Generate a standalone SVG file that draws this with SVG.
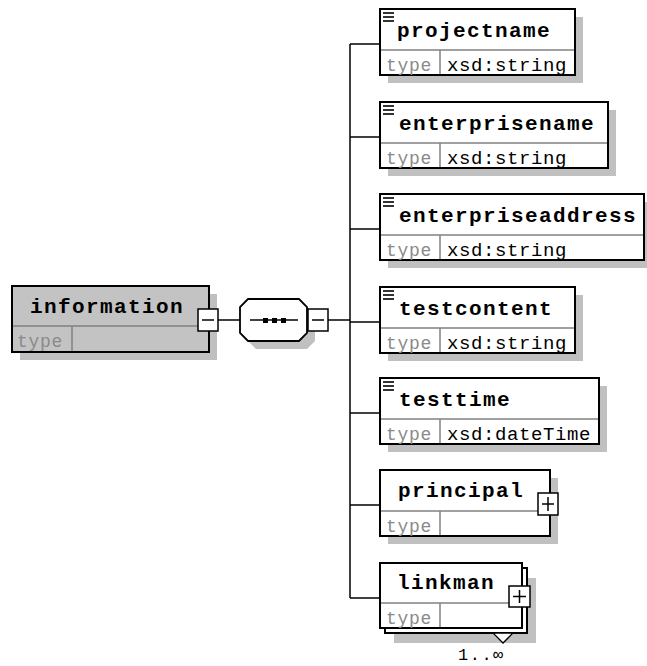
<svg xmlns="http://www.w3.org/2000/svg" width="647" height="666" viewBox="0 0 647 666">
<style>
.shadow{fill:#c0c0c0;stroke:none}
.box{fill:#fff;stroke:#000;stroke-width:2}
.div{stroke:#808080;stroke-width:1.5;fill:none}
.name{font-family:"Liberation Mono",monospace;font-weight:bold;font-size:21px;letter-spacing:1.4px;fill:#000}
.type{font-family:"Liberation Mono",monospace;font-size:18px;letter-spacing:0.7px;fill:#8a8a8a}
.val{font-family:"Liberation Mono",monospace;font-size:19px;letter-spacing:0.6px;fill:#000}
.ico{stroke:#000;stroke-width:1.6}
.pm{fill:#fff;stroke:#000;stroke-width:1.5}
.ln{stroke:#000;stroke-width:1.5;fill:none}
</style>
<rect width="647" height="666" fill="#fff"/>
<g id="connectors">
<line class="ln" x1="218" y1="320" x2="240" y2="320"/>
<line class="ln" x1="328" y1="320" x2="350" y2="320"/>
<line class="ln" x1="350" y1="44" x2="350" y2="598"/>
<line class="ln" x1="350" y1="44" x2="380" y2="44"/>
<line class="ln" x1="350" y1="137" x2="380" y2="137"/>
<line class="ln" x1="350" y1="229" x2="380" y2="229"/>
<line class="ln" x1="350" y1="322" x2="380" y2="322"/>
<line class="ln" x1="350" y1="413" x2="380" y2="413"/>
<line class="ln" x1="350" y1="505" x2="380" y2="505"/>
<line class="ln" x1="350" y1="598" x2="380" y2="598"/>
</g>
<g id="information">
<rect class="shadow" x="20" y="294" width="197" height="66"/>
<rect x="12" y="286" width="197" height="66" fill="#c3c3c3" stroke="#000" stroke-width="2"/>
<line class="div" x1="13" y1="326" x2="208" y2="326"/>
<line class="div" x1="72" y1="326" x2="72" y2="351"/>
<text class="name" x="30" y="313">information</text>
<text class="type" x="17" y="347">type</text>
<rect class="pm" x="198" y="309" width="20" height="22"/>
<line class="ln" x1="202" y1="320" x2="214" y2="320"/>
</g>
<g id="sequence">
<polygon class="shadow" points="256,307 307,307 315,315 315,341 307,349 256,349 248,341 248,315"/>
<polygon fill="#fff" stroke="#000" stroke-width="1.8" points="248,299 299,299 307,307 307,333 299,341 248,341 240,333 240,307"/>
<line class="ln" x1="250" y1="320" x2="298" y2="320"/>
<rect x="263" y="318" width="5" height="5" fill="#000"/>
<rect x="272" y="318" width="5" height="5" fill="#000"/>
<rect x="281" y="318" width="5" height="5" fill="#000"/>
<rect class="pm" x="308" y="309" width="20" height="22"/>
<line class="ln" x1="312" y1="320" x2="324" y2="320"/>
</g>
<g id="projectname">
<rect class="shadow" x="388" y="17" width="195" height="66"/>
<rect class="box" x="380" y="9" width="195" height="66"/>
<line class="div" x1="381" y1="50" x2="574" y2="50"/>
<line class="div" x1="440" y1="50" x2="440" y2="74"/>
<line class="ico" x1="383" y1="13" x2="394" y2="13"/><line class="ico" x1="383" y1="17" x2="394" y2="17"/><line class="ico" x1="383" y1="21" x2="394" y2="21"/>
<text class="name" x="397" y="37">projectname</text>
<text class="type" x="386" y="71">type</text>
<text class="val" x="447" y="71">xsd:string</text>
</g>
<g id="enterprisename">
<rect class="shadow" x="388" y="110" width="228" height="66"/>
<rect class="box" x="380" y="102" width="228" height="66"/>
<line class="div" x1="381" y1="143" x2="607" y2="143"/>
<line class="div" x1="440" y1="143" x2="440" y2="167"/>
<line class="ico" x1="383" y1="106" x2="394" y2="106"/><line class="ico" x1="383" y1="110" x2="394" y2="110"/><line class="ico" x1="383" y1="114" x2="394" y2="114"/>
<text class="name" x="399" y="130">enterprisename</text>
<text class="type" x="386" y="164">type</text>
<text class="val" x="447" y="164">xsd:string</text>
</g>
<g id="enterpriseaddress">
<rect class="shadow" x="388" y="202" width="264" height="66"/>
<rect class="box" x="380" y="194" width="264" height="66"/>
<line class="div" x1="381" y1="235" x2="643" y2="235"/>
<line class="div" x1="440" y1="235" x2="440" y2="259"/>
<line class="ico" x1="383" y1="198" x2="394" y2="198"/><line class="ico" x1="383" y1="202" x2="394" y2="202"/><line class="ico" x1="383" y1="206" x2="394" y2="206"/>
<text class="name" x="399" y="222">enterpriseaddress</text>
<text class="type" x="386" y="256">type</text>
<text class="val" x="447" y="256">xsd:string</text>
</g>
<g id="testcontent">
<rect class="shadow" x="388" y="295" width="195" height="66"/>
<rect class="box" x="380" y="287" width="195" height="66"/>
<line class="div" x1="381" y1="328" x2="574" y2="328"/>
<line class="div" x1="440" y1="328" x2="440" y2="352"/>
<line class="ico" x1="383" y1="291" x2="394" y2="291"/><line class="ico" x1="383" y1="295" x2="394" y2="295"/><line class="ico" x1="383" y1="299" x2="394" y2="299"/>
<text class="name" x="399" y="315">testcontent</text>
<text class="type" x="386" y="349">type</text>
<text class="val" x="447" y="349">xsd:string</text>
</g>
<g id="testtime">
<rect class="shadow" x="388" y="386" width="219" height="66"/>
<rect class="box" x="380" y="378" width="219" height="66"/>
<line class="div" x1="381" y1="419" x2="598" y2="419"/>
<line class="div" x1="440" y1="419" x2="440" y2="443"/>
<line class="ico" x1="383" y1="382" x2="394" y2="382"/><line class="ico" x1="383" y1="386" x2="394" y2="386"/><line class="ico" x1="383" y1="390" x2="394" y2="390"/>
<text class="name" x="399" y="406">testtime</text>
<text class="type" x="386" y="440">type</text>
<text class="val" x="447" y="440">xsd:dateTime</text>
</g>
<g id="principal">
<rect class="shadow" x="388" y="478" width="170" height="66"/>
<rect class="box" x="380" y="470" width="170" height="66"/>
<line class="div" x1="381" y1="511" x2="549" y2="511"/>
<line class="div" x1="440" y1="511" x2="440" y2="535"/>
<text class="name" x="398" y="497">principal</text>
<text class="type" x="386" y="532">type</text>
<rect class="pm" x="538" y="493" width="20" height="22"/>
<line class="ln" x1="542" y1="504" x2="554" y2="504"/>
<line class="ln" x1="548" y1="497" x2="548" y2="511"/>
</g>
<g id="linkman">
<rect class="shadow" x="394" y="578" width="142" height="65"/>
<rect class="box" x="385" y="568" width="142" height="65"/>
<rect class="box" x="380" y="563" width="142" height="65"/>
<line class="div" x1="381" y1="603" x2="521" y2="603"/>
<line class="div" x1="440" y1="603" x2="440" y2="627"/>
<text class="name" x="397" y="589">linkman</text>
<text class="type" x="386" y="624">type</text>
<rect class="pm" x="509" y="586" width="21" height="21"/>
<line class="ln" x1="513" y1="596.5" x2="526" y2="596.5"/>
<line class="ln" x1="519.5" y1="590" x2="519.5" y2="603"/>
<polygon fill="#fff" stroke="#000" stroke-width="1.3" points="493,633 513,633 503,643"/>
<text x="458" y="660" font-family="'Liberation Mono',monospace" font-size="17" letter-spacing="1.5">1..∞</text>
</g>
</svg>
